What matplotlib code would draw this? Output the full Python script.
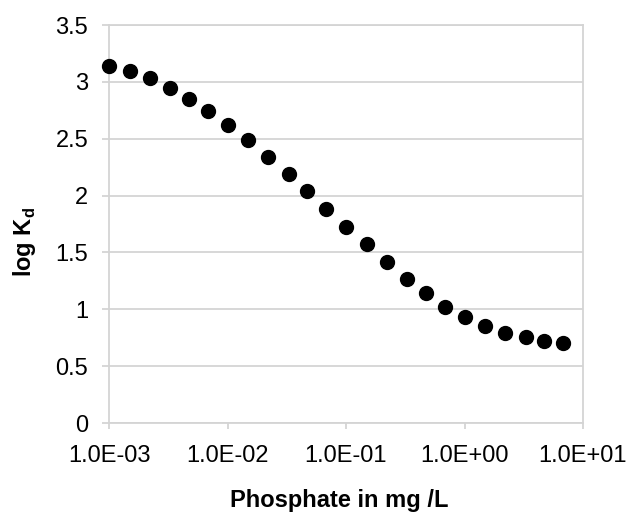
import numpy as np
import matplotlib.pyplot as plt
from matplotlib.ticker import FixedLocator, NullLocator

plt.rcParams['font.family'] = ['Liberation Sans', 'DejaVu Sans']

phosphate = [1.0e-3, 1.5e-3, 2.2e-3, 3.3e-3, 4.7e-3, 6.8e-3,
             1.0e-2, 1.5e-2, 2.2e-2, 3.3e-2, 4.7e-2, 6.8e-2,
             1.0e-1, 1.5e-1, 2.2e-1, 3.3e-1, 4.7e-1, 6.8e-1,
             1.0, 1.5, 2.2, 3.3, 4.7, 6.8]
log_kd = [3.14, 3.095, 3.03, 2.95, 2.85, 2.745,
          2.62, 2.49, 2.34, 2.19, 2.04, 1.88,
          1.72, 1.57, 1.415, 1.27, 1.14, 1.02,
          0.93, 0.85, 0.79, 0.755, 0.725, 0.705]
xticks = [1e-3, 1e-2, 1e-1, 1e0, 1e1]
xlabels = ["1.0E-03", "1.0E-02", "1.0E-01", "1.0E+00", "1.0E+01"]
yticks = [0, 0.5, 1, 1.5, 2, 2.5, 3, 3.5]
ylabels = ["0", "0.5", "1", "1.5", "2", "2.5", "3", "3.5"]

grijs = "#d4d4d4"

fig = plt.figure(figsize=(6.29, 5.14), dpi=100)
ax = fig.add_axes([109/629, 1 - 423/514, 474/629, 398/514])

ax.plot(phosphate, log_kd, "o", color="black", markersize=10, zorder=3, clip_on=False)

ax.set_xscale("log")
ax.set_xlim(1e-3, 1e1)
ax.set_ylim(0, 3.5)
ax.xaxis.set_major_locator(FixedLocator(xticks))
ax.xaxis.set_minor_locator(NullLocator())
ax.set_xticklabels(xlabels, fontsize=17)
ax.set_yticks(yticks)
ax.set_yticklabels(ylabels, fontsize=17)

ax.grid(axis="y", color=grijs, linewidth=1.3)
ax.set_axisbelow(True)
for s in ax.spines.values():
    s.set_color(grijs)
    s.set_linewidth(1.3)
ax.tick_params(axis="y", color=grijs, length=5, width=1.3, pad=10)
ax.tick_params(axis="x", color=grijs, length=4.5, width=1.3, pad=11)

fig.text(339/629, 1 - 501/514, "Phosphate in mg /L", fontsize=17,
         fontweight="bold", ha="center", va="center")
fig.text(25/629, 1 - 242/514, r"log K$_{\mathregular{d}}$", fontsize=17,
         fontweight="bold", rotation=90, ha="center", va="center")

fig.savefig("out.png", dpi=100)
